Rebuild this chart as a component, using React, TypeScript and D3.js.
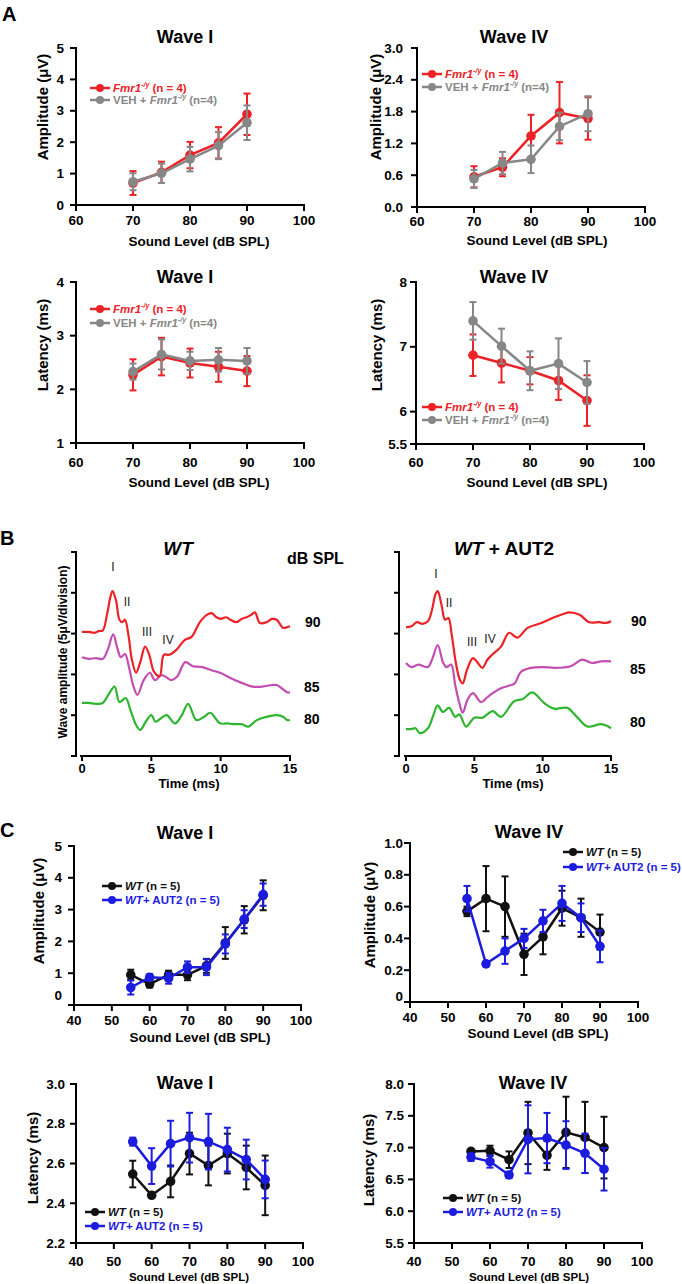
import React from 'react';
import * as d3 from 'd3';

const FONT = "'Liberation Sans', Arial, Helvetica, sans-serif";
const RED = '#ec2227';
const GRAY = '#878787';
const BLACK = '#111111';
const BLUE = '#1c1cde';
const PURPLE = '#c24fb0';
const GREEN = '#2fb52f';

// ---------- Panel A data ----------
const levelsA = [70, 75, 80, 85, 90];
const ticksA = [60, 70, 80, 90, 100];
const a1RedMean = [0.70, 1.04, 1.59, 1.98, 2.89];
const a1RedErr = [0.38, 0.34, 0.42, 0.50, 0.66];
const a1GrayMean = [0.74, 1.01, 1.46, 1.89, 2.62];
const a1GrayErr = [0.27, 0.31, 0.39, 0.43, 0.55];
const a2RedMean = [0.57, 0.75, 1.34, 1.78, 1.67];
const a2RedErr = [0.20, 0.17, 0.40, 0.58, 0.40];
const a2GrayMean = [0.53, 0.83, 0.90, 1.52, 1.76];
const a2GrayErr = [0.17, 0.21, 0.26, 0.26, 0.33];
const a3RedMean = [2.27, 2.61, 2.49, 2.42, 2.34];
const a3RedErr = [0.29, 0.35, 0.27, 0.28, 0.28];
const a3GrayMean = [2.33, 2.65, 2.53, 2.55, 2.53];
const a3GrayErr = [0.15, 0.28, 0.17, 0.22, 0.24];
const a4RedMean = [6.87, 6.75, 6.63, 6.48, 6.17];
const a4RedErr = [0.32, 0.30, 0.21, 0.30, 0.39];
const a4GrayMean = [7.40, 7.01, 6.63, 6.74, 6.45];
const a4GrayErr = [0.29, 0.27, 0.30, 0.39, 0.33];

// ---------- Panel C data ----------
const levelsC = [55, 60, 65, 70, 75, 80, 85, 90];
const ticksC = [40, 50, 60, 70, 80, 90, 100];
const c1BlackMean = [0.95, 0.66, 0.95, 0.95, 1.23, 1.95, 2.68, 3.45];
const c1BlackErr = [0.16, 0.11, 0.13, 0.17, 0.22, 0.50, 0.43, 0.47];
const c1BlueMean = [0.55, 0.87, 0.84, 1.19, 1.19, 1.92, 2.70, 3.47];
const c1BlueErr = [0.22, 0.10, 0.17, 0.18, 0.25, 0.30, 0.28, 0.35];
const c2BlackMean = [0.57, 0.65, 0.60, 0.30, 0.41, 0.59, 0.53, 0.44];
const c2BlackErr = [0.03, 0.205, 0.19, 0.13, 0.11, 0.11, 0.12, 0.11];
const c2BlueMean = [0.65, 0.24, 0.32, 0.40, 0.51, 0.62, 0.53, 0.35];
const c2BlueErr = [0.08, 0.0, 0.08, 0.06, 0.07, 0.11, 0.09, 0.10];
const c3BlackMean = [2.547, 2.44, 2.51, 2.65, 2.59, 2.65, 2.58, 2.49];
const c3BlackErr = [0.067, 0.013, 0.08, 0.105, 0.10, 0.10, 0.11, 0.15];
const c3BlueMean = [2.71, 2.587, 2.70, 2.73, 2.71, 2.67, 2.62, 2.52];
const c3BlueErr = [0.02, 0.09, 0.115, 0.125, 0.14, 0.11, 0.10, 0.095];
const c4BlackMean = [6.94, 6.95, 6.81, 7.23, 6.88, 7.24, 7.16, 7.00];
const c4BlackErr = [0.03, 0.08, 0.13, 0.49, 0.23, 0.56, 0.56, 0.485];
const c4BlueMean = [6.85, 6.78, 6.57, 7.13, 7.15, 7.04, 6.91, 6.66];
const c4BlueErr = [0.06, 0.095, 0.05, 0.535, 0.395, 0.375, 0.31, 0.335];

// ---------- Panel B traces: [time ms, amplitude uV] ----------
const bTimeTicks = [0, 5, 10, 15];
const bAmpTicks = [0, 5, 10, 15, 20, 25];
const wt90 = [[0,15.2],[0.5,15.2],[0.9,15.1],[1.2,15.3],[1.5,15.4],[1.8,17.3],[2.05,19.5],[2.2,20.2],[2.45,19.1],[2.7,16.7],[2.9,16.4],[3.1,16.7],[3.35,14.8],[3.6,11.8],[3.9,10.2],[4.2,11.5],[4.55,13.4],[4.85,12.4],[5.2,10.3],[5.6,9.8],[5.9,12.4],[6.3,12.4],[6.8,13.0],[7.4,14.2],[7.9,14.6],[8.5,16.4],[9.0,17.3],[9.35,17.5],[9.7,17.0],[10.0,16.8],[10.4,17.0],[10.7,16.7],[11.15,16.4],[11.5,16.8],[11.87,17.0],[12.2,17.3],[12.47,17.6],[12.83,16.3],[13.3,16.4],[13.7,16.8],[14.04,16.7],[14.5,15.7],[14.8,15.8],[15,15.9]];
const wt85 = [[0,12.1],[0.5,11.9],[1.0,12.0],[1.5,11.9],[1.85,13.0],[2.25,14.9],[2.55,13.2],[2.8,12.1],[3.1,12.5],[3.4,10.8],[3.7,8.6],[4.0,7.5],[4.45,9.3],[4.9,10.2],[5.25,9.3],[5.75,9.9],[6.45,9.3],[6.85,9.7],[7.45,11.5],[8.0,11.0],[8.7,10.9],[9.35,10.5],[9.95,10.2],[10.9,9.4],[11.6,8.9],[12.3,8.5],[13.0,8.5],[13.7,8.7],[14.05,8.7],[14.4,8.3],[14.8,7.8],[15,7.8]];
const wt80 = [[0,6.5],[0.5,6.5],[1.0,6.4],[1.5,6.5],[1.9,7.5],[2.35,8.5],[2.7,6.6],[3.15,7.1],[3.5,5.6],[3.9,3.8],[4.2,3.2],[4.6,4.2],[5.0,5.0],[5.3,4.2],[5.6,4.5],[6.1,5.0],[6.7,4.0],[7.2,5.0],[7.65,6.4],[8.25,4.4],[8.8,4.8],[9.25,5.3],[9.95,4.0],[10.5,4.0],[10.9,3.9],[11.5,3.9],[12.0,3.6],[12.6,4.4],[13.3,4.8],[14.05,5.0],[14.5,4.8],[14.8,4.4],[15,4.4]];
const aut90 = [[0,15.8],[0.4,15.9],[0.8,16.4],[1.2,16.2],[1.6,16.5],[1.9,17.9],[2.15,19.8],[2.32,20.2],[2.6,18.5],[2.85,16.7],[3.1,16.9],[3.35,14.8],[3.65,11.4],[3.95,9.3],[4.15,8.9],[4.45,10.5],[4.9,12.0],[5.3,11.3],[5.6,10.8],[5.95,11.8],[6.3,12.4],[6.95,13.4],[7.55,15.1],[8.15,14.5],[8.9,15.7],[9.9,16.3],[10.85,17.0],[11.5,17.4],[11.95,17.6],[12.7,17.3],[13.4,16.4],[14.15,16.4],[14.6,16.3],[15,16.5]];
const aut85 = [[0,11.4],[0.4,10.9],[0.9,11.2],[1.6,10.9],[1.9,11.8],[2.32,13.6],[2.7,11.5],[2.95,10.9],[3.3,11.2],[3.6,8.7],[3.9,6.5],[4.15,5.3],[4.5,6.9],[4.9,7.7],[5.5,6.6],[5.95,7.2],[6.35,7.7],[6.95,8.3],[7.5,8.6],[7.95,8.9],[8.4,10.3],[9.15,10.8],[10.0,10.9],[10.9,10.8],[12.05,11.0],[12.9,11.8],[13.6,11.4],[14.3,11.6],[15,11.6]];
const aut80 = [[0,3.3],[0.4,3.3],[0.7,3.4],[1.0,2.8],[1.6,3.4],[2.0,5.0],[2.32,6.2],[2.7,5.4],[3.15,5.9],[3.6,4.8],[3.9,5.1],[4.4,3.6],[5.0,4.7],[5.6,4.7],[6.35,5.5],[6.95,4.8],[7.9,6.7],[8.55,7.0],[9.25,7.8],[10.1,6.5],[10.85,5.8],[11.8,5.9],[12.55,4.7],[13.3,3.6],[14.25,3.9],[14.7,3.7],[15,3.4]];

type Series = { mean: number[]; err: number[]; color: string };

function Fmr({ veh }: { veh?: boolean }) {
  return (
    <>
      {veh ? <tspan>VEH + </tspan> : null}
      <tspan fontStyle="italic">Fmr1</tspan>
      <tspan fontStyle="italic" fontSize={7} dy={-4}>-/y</tspan>
      <tspan dy={4}>{veh ? ' (n=4)' : ' (n = 4)'}</tspan>
    </>
  );
}
function WtLab({ aut }: { aut?: boolean }) {
  return (
    <>
      <tspan fontStyle="italic">WT</tspan>
      <tspan>{aut ? '+ AUT2 (n = 5)' : ' (n = 5)'}</tspan>
    </>
  );
}

function XYPanel(p: any) {
  const x = d3.scaleLinear().domain(p.xDomain).range([p.x0, p.x1]);
  const y = d3.scaleLinear().domain(p.yDomain).range([p.yBot, p.yTop]);
  const ax = p.x0;
  const ay = p.yBot;
  const levels: number[] = p.levels;
  const lineGen = d3.line<number>().x((_, i) => x(levels[i])).y((d) => y(d));
  const series: Series[] = p.series;
  return (
    <g fontFamily={FONT} fontWeight="bold">
      <text x={p.titleX} y={p.titleY} textAnchor="middle" dominantBaseline="central" fontSize={18}>{p.title}</text>
      <text transform={`translate(${p.yLabelX},${p.yLabelY}) rotate(-90)`} textAnchor="middle" dominantBaseline="central" fontSize={15}>{p.yLabel}</text>
      <line x1={ax} x2={ax} y1={p.yTop - 1} y2={ay + 1} stroke="#000" strokeWidth={2} />
      <line x1={ax - 1} x2={p.x1 + 1} y1={ay} y2={ay} stroke="#000" strokeWidth={2} />
      {p.yTicks.map((t: number) => (
        <g key={'y' + t}>
          <line x1={ax - 6} x2={ax} y1={y(t)} y2={y(t)} stroke="#000" strokeWidth={2} />
          <text x={ax - p.tickGap} y={y(t) + (t === p.yDomain[0] ? p.zeroDy || 0 : 0)} textAnchor="end" dominantBaseline="central" fontSize={13.5}>{p.yFmt(t)}</text>
        </g>
      ))}
      {p.xTicks.map((t: number) => (
        <g key={'x' + t}>
          <line x1={x(t)} x2={x(t)} y1={ay} y2={ay + 6} stroke="#000" strokeWidth={2} />
          <text x={x(t)} y={ay + p.xTickDy} textAnchor="middle" dominantBaseline="central" fontSize={13.5}>{t}</text>
        </g>
      ))}
      <text x={p.xLabelX} y={ay + p.xLabelDy} textAnchor="middle" dominantBaseline="central" fontSize={p.xLabelSize || 13.5}>Sound Level (dB SPL)</text>
      {series.map((s, si) => (
        <g key={'s' + si}>
          {s.mean.map((m, i) => s.err[i] > 0 ? (
            <g key={i} stroke={s.color} strokeWidth={2}>
              <line x1={x(levels[i])} x2={x(levels[i])} y1={y(m - s.err[i])} y2={y(m + s.err[i])} />
              <line x1={x(levels[i]) - 3.5} x2={x(levels[i]) + 3.5} y1={y(m + s.err[i])} y2={y(m + s.err[i])} />
              <line x1={x(levels[i]) - 3.5} x2={x(levels[i]) + 3.5} y1={y(m - s.err[i])} y2={y(m - s.err[i])} />
            </g>
          ) : null)}
          <path d={lineGen(s.mean) || ''} fill="none" stroke={s.color} strokeWidth={2.5} />
          {s.mean.map((m, i) => (
            <circle key={i} cx={x(levels[i])} cy={y(m)} r={4.8} fill={s.color} />
          ))}
        </g>
      ))}
      {p.legend.map((l: any, i: number) => (
        <g key={'l' + i}>
          <line x1={l.x} x2={l.x + 20} y1={l.y} y2={l.y} stroke={l.color} strokeWidth={2.5} />
          <circle cx={l.x + 10} cy={l.y} r={4} fill={l.color} />
          <text x={l.x + 23} y={l.y} dominantBaseline="central" fontSize={11.5} fill={l.color}>{l.label}</text>
        </g>
      ))}
    </g>
  );
}

function TracePanel(p: any) {
  const x = d3.scaleLinear().domain([0, 15]).range([p.x0, p.x1]);
  const y = d3.scaleLinear().domain([0, 25]).range([756, 552]);
  const gen = d3.line<number[]>().x((d) => x(d[0])).y((d) => y(d[1])).curve(d3.curveCatmullRom.alpha(0.5));
  return (
    <g fontFamily={FONT}>
      <line x1={p.ax} x2={p.ax} y1={y(25) - 1} y2={y(0) + 1} stroke="#000" strokeWidth={2} />
      {bAmpTicks.map((t) => (
        <line key={t} x1={p.ax - 5} x2={p.ax} y1={y(t)} y2={y(t)} stroke="#000" strokeWidth={2} />
      ))}
      <line x1={x(0) - 2} x2={x(15) + 1} y1={y(0)} y2={y(0)} stroke="#000" strokeWidth={2} />
      {bTimeTicks.map((t) => (
        <g key={t}>
          <line x1={x(t)} x2={x(t)} y1={y(0)} y2={y(0) + 5} stroke="#000" strokeWidth={2} />
          <text x={x(t)} y={y(0) + 12} textAnchor="middle" dominantBaseline="central" fontSize={13} fontWeight="bold">{t}</text>
        </g>
      ))}
      <text x={p.timeLabelX} y={783} textAnchor="middle" dominantBaseline="central" fontSize={13} fontWeight="bold">Time (ms)</text>
      {p.traces.map((tr: any, i: number) => (
        <path key={i} d={gen(tr.data) || ''} fill="none" stroke={tr.color} strokeWidth={2.2} strokeLinejoin="round" />
      ))}
      {p.levelLabels.map((l: any, i: number) => (
        <text key={i} x={l.x} y={l.y} dominantBaseline="central" fontSize={14} fontWeight="bold">{l.t}</text>
      ))}
      {p.romans.map((r: any, i: number) => (
        <text key={i} x={r.x} y={r.y} textAnchor="middle" dominantBaseline="central" fontSize={12} fill="#222" stroke="none" fontFamily={FONT}>{r.t}</text>
      ))}
    </g>
  );
}

export default function App() {
  const fmt0 = (t: number) => String(t);
  const fmt1 = (t: number) => t.toFixed(1);
  return (
    <svg width={682} height={1284} viewBox="0 0 682 1284" style={{ position: 'absolute', left: 0, top: 0, background: '#fff' }} fontFamily={FONT}>
      <rect x={0} y={0} width={682} height={1284} fill="#fff" />
      <text x={2} y={21} fontSize={20} fontWeight="bold">A</text>
      <text x={0} y={545} fontSize={20} fontWeight="bold">B</text>
      <text x={0} y={837} fontSize={20} fontWeight="bold">C</text>

      <XYPanel x0={76} x1={304} xDomain={[60, 100]} xTicks={ticksA} yBot={205} yTop={48} yDomain={[0, 5]} yTicks={[0, 1, 2, 3, 4, 5]} yFmt={fmt0}
        levels={levelsA} tickGap={12} xTickDy={15} xLabelDy={36} xLabelX={199}
        title="Wave I" titleX={185} titleY={37} yLabel="Amplitude (μV)" yLabelX={42} yLabelY={107}
        series={[{ mean: a1RedMean, err: a1RedErr, color: RED }, { mean: a1GrayMean, err: a1GrayErr, color: GRAY }]}
        legend={[{ x: 90, y: 88, color: RED, label: <Fmr /> }, { x: 90, y: 100, color: GRAY, label: <Fmr veh /> }]} />
      <XYPanel x0={417} x1={645} xDomain={[60, 100]} xTicks={ticksA} yBot={207} yTop={48} yDomain={[0, 3]} yTicks={[0, 0.6, 1.2, 1.8, 2.4, 3.0]} yFmt={fmt1}
        levels={levelsA} tickGap={14} xTickDy={14} xLabelDy={33} xLabelX={537}
        title="Wave IV" titleX={514} titleY={37} yLabel="Amplitude (μV)" yLabelX={375} yLabelY={107}
        series={[{ mean: a2RedMean, err: a2RedErr, color: RED }, { mean: a2GrayMean, err: a2GrayErr, color: GRAY }]}
        legend={[{ x: 422, y: 74, color: RED, label: <Fmr /> }, { x: 422, y: 87, color: GRAY, label: <Fmr veh /> }]} />
      <XYPanel x0={76} x1={304} xDomain={[60, 100]} xTicks={ticksA} yBot={443} yTop={282} yDomain={[1, 4]} yTicks={[1, 2, 3, 4]} yFmt={fmt0}
        levels={levelsA} tickGap={12} xTickDy={19} xLabelDy={39} xLabelX={199}
        title="Wave I" titleX={185} titleY={277} yLabel="Latency (ms)" yLabelX={42} yLabelY={345}
        series={[{ mean: a3RedMean, err: a3RedErr, color: RED }, { mean: a3GrayMean, err: a3GrayErr, color: GRAY }]}
        legend={[{ x: 90, y: 309, color: RED, label: <Fmr /> }, { x: 90, y: 323, color: GRAY, label: <Fmr veh /> }]} />
      <XYPanel x0={416} x1={644} xDomain={[60, 100]} xTicks={ticksA} yBot={444} yTop={282} yDomain={[5.5, 8]} yTicks={[5.5, 6, 7, 8]} yFmt={fmt0}
        levels={levelsA} tickGap={9} xTickDy={18} xLabelDy={38} xLabelX={537}
        title="Wave IV" titleX={514} titleY={277} yLabel="Latency (ms)" yLabelX={376} yLabelY={345}
        series={[{ mean: a4RedMean, err: a4RedErr, color: RED }, { mean: a4GrayMean, err: a4GrayErr, color: GRAY }]}
        legend={[{ x: 422, y: 407, color: RED, label: <Fmr /> }, { x: 422, y: 420, color: GRAY, label: <Fmr veh /> }]} />

      <text x={178} y={548} textAnchor="middle" dominantBaseline="central" fontSize={19} fontWeight="bold" fontStyle="italic">WT</text>
      <text x={504} y={548} textAnchor="middle" dominantBaseline="central" fontSize={19} fontWeight="bold"><tspan fontStyle="italic">WT</tspan> + AUT2</text>
      <text x={287} y={558} dominantBaseline="central" fontSize={16} fontWeight="bold">dB SPL</text>
      <text transform="translate(63,652) rotate(-90)" textAnchor="middle" dominantBaseline="central" fontSize={12} fontWeight="bold">Wave amplitude (5μV/division)</text>
      <TracePanel ax={76} x0={82} x1={290} timeLabelX={189}
        traces={[{ data: wt80, color: GREEN }, { data: wt85, color: PURPLE }, { data: wt90, color: RED }]}
        levelLabels={[{ x: 305, y: 622, t: '90' }, { x: 304, y: 687, t: '85' }, { x: 304, y: 719, t: '80' }]}
        romans={[{ x: 113, y: 567, t: 'I' }, { x: 127, y: 602, t: 'II' }, { x: 147, y: 632, t: 'III' }, { x: 168, y: 640, t: 'IV' }]} />
      <TracePanel ax={399} x0={406} x1={611} timeLabelX={513}
        traces={[{ data: aut80, color: GREEN }, { data: aut85, color: PURPLE }, { data: aut90, color: RED }]}
        levelLabels={[{ x: 631, y: 621, t: '90' }, { x: 630, y: 669, t: '85' }, { x: 630, y: 722, t: '80' }]}
        romans={[{ x: 436, y: 574, t: 'I' }, { x: 449, y: 603, t: 'II' }, { x: 472, y: 642, t: 'III' }, { x: 490, y: 639, t: 'IV' }]} />

      <XYPanel x0={74} x1={301} xDomain={[40, 100]} xTicks={ticksC} yBot={1005} yTop={846} yDomain={[0, 5]} yTicks={[0, 1, 2, 3, 4, 5]} yFmt={fmt0}
        levels={levelsC} tickGap={12} zeroDy={-10} xTickDy={15} xLabelDy={32} xLabelX={200}
        title="Wave I" titleX={185} titleY={833} yLabel="Amplitude (μV)" yLabelX={38} yLabelY={911}
        series={[{ mean: c1BlackMean, err: c1BlackErr, color: BLACK }, { mean: c1BlueMean, err: c1BlueErr, color: BLUE }]}
        legend={[{ x: 102, y: 886, color: BLACK, label: <WtLab /> }, { x: 102, y: 900, color: BLUE, label: <WtLab aut /> }]} />
      <XYPanel x0={410} x1={638} xDomain={[40, 100]} xTicks={ticksC} yBot={1002} yTop={843} yDomain={[0, 1]} yTicks={[0, 0.2, 0.4, 0.6, 0.8, 1.0]} yFmt={(t: number) => (t === 0 ? '0' : t.toFixed(1))}
        levels={levelsC} tickGap={7} zeroDy={-6} xTickDy={15} xLabelDy={31} xLabelX={538}
        title="Wave IV" titleX={529} titleY={832} yLabel="Amplitude (μV)" yLabelX={369} yLabelY={915}
        series={[{ mean: c2BlackMean, err: c2BlackErr, color: BLACK }, { mean: c2BlueMean, err: c2BlueErr, color: BLUE }]}
        legend={[{ x: 563, y: 852, color: BLACK, label: <WtLab /> }, { x: 563, y: 867, color: BLUE, label: <WtLab aut /> }]} />
      <XYPanel x0={76} x1={303} xDomain={[40, 100]} xTicks={ticksC} yBot={1243} yTop={1084} yDomain={[2.2, 3.0]} yTicks={[2.2, 2.4, 2.6, 2.8, 3.0]} yFmt={fmt1}
        levels={levelsC} tickGap={11} xTickDy={18} xLabelDy={34} xLabelX={189} xLabelSize={11.5}
        title="Wave I" titleX={185} titleY={1083} yLabel="Latency (ms)" yLabelX={32} yLabelY={1158}
        series={[{ mean: c3BlackMean, err: c3BlackErr, color: BLACK }, { mean: c3BlueMean, err: c3BlueErr, color: BLUE }]}
        legend={[{ x: 85, y: 1212, color: BLACK, label: <WtLab /> }, { x: 85, y: 1226, color: BLUE, label: <WtLab aut /> }]} />
      <XYPanel x0={414} x1={642} xDomain={[40, 100]} xTicks={ticksC} yBot={1243} yTop={1084} yDomain={[5.5, 8.0]} yTicks={[5.5, 6.0, 6.5, 7.0, 7.5, 8.0]} yFmt={fmt1}
        levels={levelsC} tickGap={10} xTickDy={18} xLabelDy={34} xLabelX={529} xLabelSize={11.5}
        title="Wave IV" titleX={533} titleY={1083} yLabel="Latency (ms)" yLabelX={368} yLabelY={1160}
        series={[{ mean: c4BlackMean, err: c4BlackErr, color: BLACK }, { mean: c4BlueMean, err: c4BlueErr, color: BLUE }]}
        legend={[{ x: 443, y: 1198, color: BLACK, label: <WtLab /> }, { x: 443, y: 1212, color: BLUE, label: <WtLab aut /> }]} />
    </svg>
  );
}
